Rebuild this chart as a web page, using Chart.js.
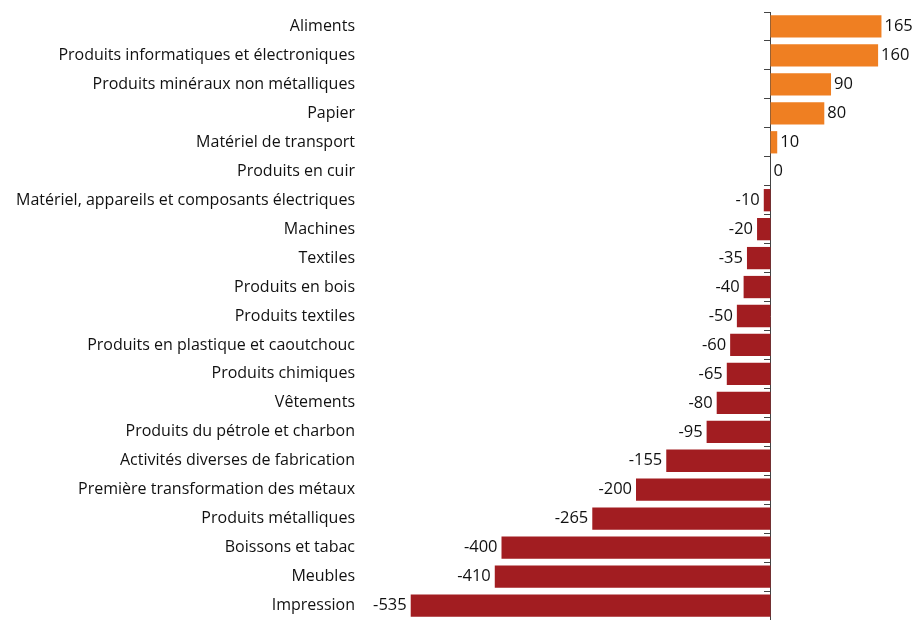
<!DOCTYPE html>
<html>
<head>
<meta charset="utf-8">
<script src="https://cdn.jsdelivr.net/npm/chart.js@4"></script>
<style>
  html, body { margin: 0; padding: 0; background: #fff; }
  #wrap { width: 913px; height: 620px; }
</style>
</head>
<body>
<div id="wrap"><canvas id="chart"></canvas></div>
<script>
const categories = [
  'Aliments',
  'Produits informatiques et électroniques',
  'Produits minéraux non métalliques',
  'Papier',
  'Matériel de transport',
  'Produits en cuir',
  'Matériel, appareils et composants électriques',
  'Machines',
  'Textiles',
  'Produits en bois',
  'Produits textiles',
  'Produits en plastique et caoutchouc',
  'Produits chimiques',
  'Vêtements',
  'Produits du pétrole et charbon',
  'Activités diverses de fabrication',
  'Première transformation des métaux',
  'Produits métalliques',
  'Boissons et tabac',
  'Meubles',
  'Impression'
];
const values = [165, 160, 90, 80, 10, 0, -10, -20, -35, -40, -50, -60, -65, -80, -95, -155, -200, -265, -400, -410, -535];

const POS_COLOR = '#EF7F22';
const NEG_COLOR = '#A21D21';

// value labels next to the end of each bar
const valueLabels = {
  id: 'valueLabels',
  afterDatasetsDraw(chart) {
    const ctx = chart.ctx;
    const meta = chart.getDatasetMeta(0);
    ctx.save();
    ctx.font = '16.5px "Open Sans"';
    ctx.fillStyle = '#111';
    ctx.textBaseline = 'middle';
    meta.data.forEach((bar, i) => {
      const v = values[i];
      if (v < 0) {
        ctx.textAlign = 'right';
        ctx.fillText(String(v), bar.x - 4, bar.y);
      } else {
        ctx.textAlign = 'left';
        ctx.fillText(String(v), bar.x + 3, bar.y);
      }
    });
    ctx.restore();
  }
};

new Chart(document.getElementById('chart'), {
  type: 'bar',
  data: {
    labels: categories,
    datasets: [{
      data: values,
      backgroundColor: values.map(v => v < 0 ? NEG_COLOR : POS_COLOR),
      barPercentage: 0.77,
      categoryPercentage: 1
    }]
  },
  options: {
    indexAxis: 'y',
    responsive: true,
    maintainAspectRatio: false,
    animation: false,
    layout: { padding: { top: 12, right: 8, bottom: -2, left: 0 } },
    plugins: {
      legend: { display: false },
      tooltip: { enabled: false }
    },
    scales: {
      x: {
        display: false,
        min: -600,
        max: 200
      },
      y: {
        position: 'left',
        afterFit(scale) {
          scale.width = 367;
          scale.paddingTop = 0;
          scale.paddingBottom = 0;
        },
        grid: { display: false, drawTicks: false },
        border: { display: false },
        ticks: {
          padding: 12,
          color: '#111',
          font: { family: 'Open Sans', size: 16 }
        }
      },
      y2: {
        type: 'category',
        axis: 'y',
        position: { x: 0 },
        offset: true,
        afterFit(scale) {
          scale.paddingTop = 0;
          scale.paddingBottom = 0;
        },
        grid: {
          offset: true,
          drawOnChartArea: false,
          drawTicks: true,
          tickLength: 6,
          color: '#444'
        },
        border: { display: true, color: '#444', width: 1 },
        ticks: { display: false }
      }
    }
  },
  plugins: [valueLabels]
});
</script>
</body>
</html>
